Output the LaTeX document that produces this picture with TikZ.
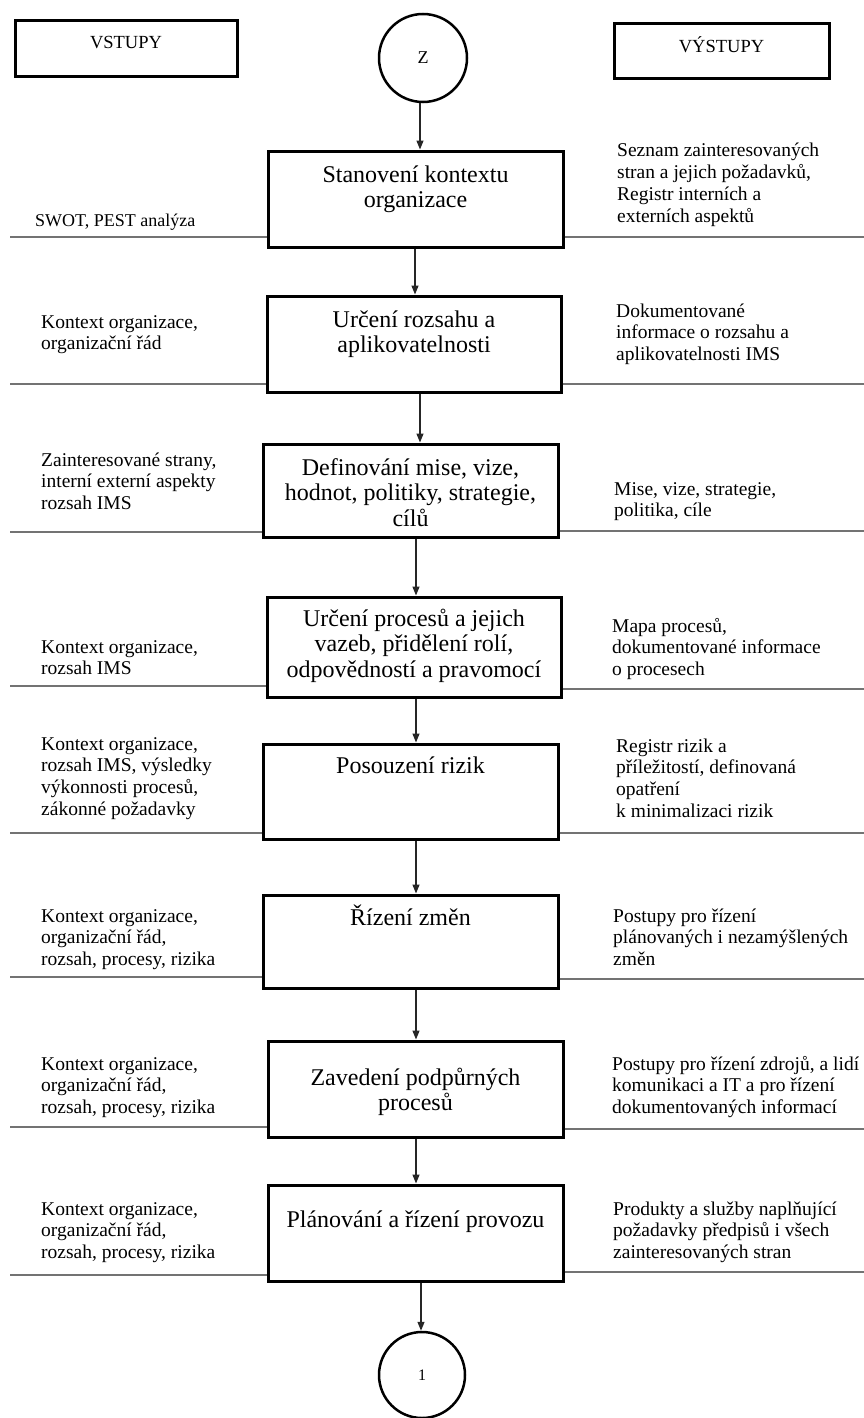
\documentclass[tikz,border=0pt]{standalone}
\usepackage{fontspec}
\setmainfont{Liberation Serif}
\usetikzlibrary{arrows.meta}
\newcommand{\boxtext}[4]{\parbox[c][#2][t]{#1}{\centering\rule{0pt}{#3}#4\par}}
\newcommand{\sidetext}[1]{\parbox[t]{300pt}{\raggedright #1\par}}
\begin{document}
\begin{tikzpicture}[x=1pt,y=-1pt,
 procbox/.style={draw, line width=3pt, inner sep=0pt, font=\fontsize{24}{25.5}\selectfont},
 headbox/.style={draw, line width=3pt, inner sep=0pt, font=\fontsize{18.5}{20}\selectfont},
 conn/.style={draw, circle, line width=2.5pt, inner sep=0pt},
 side/.style={anchor=base west, inner sep=0pt, font=\fontsize{19.5}{21.7}\selectfont},
 arr/.style={line width=1.3pt, draw=black!85, -{Triangle[length=9pt,width=7pt]}},
 sep/.style={line width=2.4pt, draw=black!55}]
\useasboundingbox (0,0) rectangle (864,1418);

% header boxes and connectors
\node[headbox] (vin) at (126,49) {\boxtext{222pt}{56pt}{28pt}{VSTUPY}};
\node[headbox] (vout) at (721.5,51.5) {\boxtext{215pt}{55pt}{29pt}{VÝSTUPY}};
\node[conn, minimum size=88pt, font=\fontsize{18}{20}\selectfont] (z) at (423,58) {Z};
\node[conn, minimum size=86pt, font=\fontsize{16}{18}\selectfont] (one) at (422,1375) {1};

% process boxes
\node[procbox] (b1) at (415.5,199) {\boxtext{295pt}{96pt}{31pt}{Stanovení kontextu\\organizace}};
\node[procbox] (b2) at (414,344) {\boxtext{294pt}{96pt}{31pt}{Určení rozsahu a\\aplikovatelnosti}};
\node[procbox] (b3) at (410.5,490.5) {\boxtext{295pt}{93pt}{31pt}{Definování mise, vize,\\hodnot, politiky, strategie,\\cílů}};
\node[procbox] (b4) at (414,647) {\boxtext{294pt}{100pt}{29pt}{Určení procesů a jejich\\vazeb, přidělení rolí,\\odpovědností a pravomocí}};
\node[procbox] (b5) at (410.5,791.5) {\boxtext{295pt}{95pt}{29pt}{Posouzení rizik}};
\node[procbox] (b6) at (410.5,941.5) {\boxtext{295pt}{93pt}{30pt}{Řízení změn}};
\node[procbox] (b7) at (415.5,1089) {\boxtext{295pt}{96pt}{44pt}{Zavedení podpůrných\\procesů}};
\node[procbox] (b8) at (415.5,1233) {\boxtext{295pt}{96pt}{42pt}{Plánování a řízení provozu}};

% inputs
\node[side, font=\fontsize{18}{21}\selectfont] (i1) at (35,226) {SWOT, PEST analýza};
\node[side] (i2) at (41,328) {\sidetext{Kontext organizace,\\organizační řád}};
\node[side] (i3) at (41,466) {\sidetext{Zainteresované strany,\\interní externí aspekty\\rozsah IMS}};
\node[side] (i4) at (41,653) {\sidetext{Kontext organizace,\\rozsah IMS}};
\node[side] (i5) at (41,750) {\sidetext{Kontext organizace,\\rozsah IMS, výsledky\\výkonnosti procesů,\\zákonné požadavky}};
\node[side] (i6) at (41,922) {\sidetext{Kontext organizace,\\organizační řád,\\rozsah, procesy, rizika}};
\node[side] (i7) at (41,1070) {\sidetext{Kontext organizace,\\organizační řád,\\rozsah, procesy, rizika}};
\node[side] (i8) at (41,1215) {\sidetext{Kontext organizace,\\organizační řád,\\rozsah, procesy, rizika}};

% outputs
\node[side] (o1) at (617,157) {\sidetext{Seznam zainteresovaných\\stran a jejich požadavků,\\Registr interních a\\externích aspektů}};
\node[side] (o2) at (616,317) {\sidetext{Dokumentované\\informace o rozsahu a\\aplikovatelnosti IMS}};
\node[side] (o3) at (614,495) {\sidetext{Mise, vize, strategie,\\politika, cíle}};
\node[side] (o4) at (612,632) {\sidetext{Mapa procesů,\\dokumentované informace\\o procesech}};
\node[side] (o5) at (616,752) {\sidetext{Registr rizik a\\příležitostí, definovaná\\opatření\\k minimalizaci rizik}};
\node[side] (o6) at (613,922) {\sidetext{Postupy pro řízení\\plánovaných i nezamýšlených\\změn}};
\node[side] (o7) at (612,1070) {\sidetext{Postupy pro řízení zdrojů, a lidí\\komunikaci a IT a pro řízení\\dokumentovaných informací}};
\node[side] (o8) at (613,1215) {\sidetext{Produkty a služby naplňující\\požadavky předpisů i všech\\zainteresovaných stran}};

% separator lines
\coordinate (l1) at (10,237);  \coordinate (r1) at (864,237);
\coordinate (l2) at (10,384);  \coordinate (r2) at (864,384);
\coordinate (l3) at (10,532);  \coordinate (r3) at (864,531);
\coordinate (l4) at (10,686);  \coordinate (r4) at (864,689);
\coordinate (l5) at (10,833);  \coordinate (r5) at (864,833);
\coordinate (l6) at (10,977);  \coordinate (r6) at (864,979);
\coordinate (l7) at (10,1127); \coordinate (r7) at (864,1129);
\coordinate (l8) at (10,1275); \coordinate (r8) at (864,1272);
\foreach \k in {1,...,8}{
  \draw[sep] (l\k) -- (l\k -| b\k.west);
  \draw[sep] (b\k.east |- r\k) -- (r\k);
}

% spine arrows
\coordinate (s1) at (420,0);
\coordinate (s2) at (415,0);
\coordinate (s3) at (420,0);
\coordinate (s4) at (416,0);
\coordinate (s9) at (421,0);
\draw[arr] (s1 |- z.south) -- (s1 |- b1.north);
\draw[arr] (s2 |- b1.south) -- (s2 |- b2.north);
\draw[arr] (s3 |- b2.south) -- (s3 |- b3.north);
\draw[arr] (s4 |- b3.south) -- (s4 |- b4.north);
\draw[arr] (s4 |- b4.south) -- (s4 |- b5.north);
\draw[arr] (s4 |- b5.south) -- (s4 |- b6.north);
\draw[arr] (s4 |- b6.south) -- (s4 |- b7.north);
\draw[arr] (s4 |- b7.south) -- (s4 |- b8.north);
\draw[arr] (s9 |- b8.south) -- (s9 |- one.north);
\end{tikzpicture}
\end{document}
